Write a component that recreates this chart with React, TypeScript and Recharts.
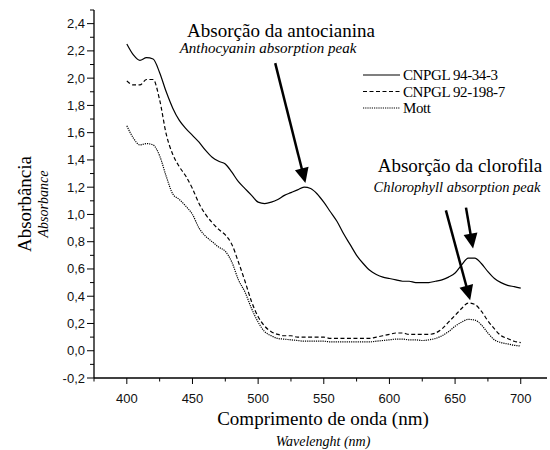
import React from "react";
import { LineChart, Line, XAxis, YAxis, ReferenceLine } from "recharts";

// Wavelength grid (nm) and absorbance readings for each cultivar
const wavelengths = [
  400, 405, 410, 415, 420, 425, 430, 435, 440, 445, 450, 455, 460, 465, 470, 475, 480, 485, 490, 495,
  500, 505, 510, 515, 520, 525, 530, 535, 540, 545, 550, 555, 560, 565, 570, 575, 580, 585, 590, 595,
  600, 605, 610, 615, 620, 625, 630, 635, 640, 645, 650, 655, 660, 665, 670, 675, 680, 685, 690, 695, 700,
];

const cnpgl94 = [
  2.25, 2.17, 2.13, 2.15, 2.14, 2.04, 1.9, 1.78, 1.69, 1.63, 1.58, 1.53, 1.47, 1.42, 1.39, 1.37, 1.31, 1.24, 1.19, 1.14,
  1.09, 1.08, 1.09, 1.11, 1.14, 1.16, 1.18, 1.2, 1.19, 1.15, 1.09, 1.02, 0.95, 0.86, 0.78, 0.7, 0.64, 0.59, 0.56, 0.54,
  0.53, 0.52, 0.51, 0.51, 0.5, 0.5, 0.5, 0.51, 0.52, 0.54, 0.57, 0.63, 0.68, 0.68, 0.64, 0.58, 0.53, 0.5, 0.48, 0.47, 0.46,
];

const cnpgl92 = [
  1.98, 1.95, 1.95, 1.99, 1.99, 1.84, 1.59, 1.44, 1.35, 1.28, 1.19, 1.08, 1.0, 0.94, 0.89, 0.85, 0.78, 0.65, 0.51, 0.36,
  0.25, 0.18, 0.14, 0.12, 0.11, 0.11, 0.1, 0.1, 0.1, 0.1, 0.1, 0.09, 0.09, 0.09, 0.09, 0.09, 0.09, 0.09, 0.1, 0.11,
  0.12, 0.13, 0.13, 0.12, 0.12, 0.12, 0.12, 0.13, 0.16, 0.21, 0.26, 0.31, 0.35, 0.34, 0.29, 0.22, 0.16, 0.11, 0.09, 0.07, 0.06,
];

const mott = [
  1.65, 1.56, 1.51, 1.52, 1.51, 1.43, 1.28, 1.15, 1.11, 1.06, 1.0, 0.9, 0.84, 0.8, 0.76, 0.73, 0.65, 0.52, 0.43, 0.31,
  0.21, 0.14, 0.11, 0.09, 0.085, 0.08, 0.075, 0.07, 0.07, 0.07, 0.07, 0.065, 0.065, 0.065, 0.065, 0.065, 0.065, 0.065, 0.07, 0.075,
  0.08, 0.085, 0.085, 0.08, 0.08, 0.075, 0.08, 0.09, 0.11, 0.14, 0.18, 0.21, 0.23, 0.225, 0.19, 0.13, 0.08, 0.06, 0.05, 0.04, 0.035,
];

const seriesNames = ["CNPGL 94-34-3", "CNPGL 92-198-7", "Mott"];
const seriesKeys = ["a", "b", "c"];
const seriesDash = ["", "4 2.5", "1.2 1"];

const xTicks = [375, 400, 425, 450, 475, 500, 525, 550, 575, 600, 625, 650, 675, 700];
const yTicks = Array.from({ length: 28 }, (_, i) => Math.round((-0.2 + i * 0.1) * 10) / 10);

// Arrow segments pointing at the absorption peaks: [x1, y1, x2, y2] in nm / absorbance
const arrows = [
  [513, 2.11, 536, 1.23],
  [643, 1.03, 661.5, 0.37],
  [658.3, 1.05, 663.7, 0.75],
];

const data = wavelengths.map((nm, i) => ({ nm, a: cnpgl94[i], b: cnpgl92[i], c: mott[i] }));

const SERIF = '"Liberation Serif", "Times New Roman", serif';
const SANS = '"Liberation Sans", Arial, sans-serif';

const XTick = (props: any) => {
  const { x, y, payload } = props;
  const v = payload.value as number;
  const major = v % 50 === 0;
  return (
    <g>
      <line x1={x} y1={y} x2={x} y2={y + (major ? 6 : 3.5)} stroke="#000" strokeWidth={1} />
      {major && (
        <text x={x} y={y + 25} textAnchor="middle" fontFamily={SANS} fontSize={13} fill="#111">
          {v}
        </text>
      )}
    </g>
  );
};

const YTick = (props: any) => {
  const { x, y, payload } = props;
  const v = payload.value as number;
  const major = Math.round(v * 10) % 2 === 0;
  return (
    <g>
      <line x1={x - (major ? 7 : 4)} y1={y} x2={x} y2={y} stroke="#000" strokeWidth={1} />
      {major && (
        <text x={x - 9} y={y + 4.5} textAnchor="end" fontFamily={SANS} fontSize={13} fill="#111">
          {v.toFixed(1).replace(".", ",")}
        </text>
      )}
    </g>
  );
};

const ArrowShape = (props: any) => {
  const { x1, y1, x2, y2 } = props;
  const dx = x2 - x1;
  const dy = y2 - y1;
  const len = Math.hypot(dx, dy) || 1;
  const ux = dx / len;
  const uy = dy / len;
  const head = 15;
  const half = 7;
  const bx = x2 - ux * head;
  const by = y2 - uy * head;
  return (
    <g>
      <line x1={x1} y1={y1} x2={bx + ux * 2} y2={by + uy * 2} stroke="#000" strokeWidth={2.5} />
      <polygon
        points={`${x2},${y2} ${bx - uy * half},${by + ux * half} ${bx + uy * half},${by - ux * half}`}
        fill="#000"
      />
    </g>
  );
};

export default function App() {
  return (
    <div style={{ position: "absolute", left: 0, top: 0, width: 550, height: 450, background: "#fff" }}>
      <LineChart width={550} height={450} data={data} margin={{ top: 10, right: 3, left: 0, bottom: 0 }}>
        <XAxis
          dataKey="nm"
          type="number"
          domain={[375, 720]}
          ticks={xTicks}
          interval={0}
          height={72}
          tickLine={false}
          tickSize={0}
          tickMargin={0}
          tick={<XTick />}
          axisLine={{ stroke: "#000", strokeWidth: 1.3 }}
        />
        <YAxis
          type="number"
          domain={[-0.2, 2.5]}
          ticks={yTicks}
          interval={0}
          width={94}
          tickLine={false}
          tickSize={0}
          tickMargin={0}
          tick={<YTick />}
          axisLine={{ stroke: "#000", strokeWidth: 1.3 }}
        />
        {seriesKeys.map((k, i) => (
          <Line
            key={k}
            dataKey={k}
            name={seriesNames[i]}
            type="monotone"
            stroke="#000"
            strokeWidth={1.2}
            strokeDasharray={seriesDash[i] || undefined}
            dot={false}
            isAnimationActive={false}
          />
        ))}
        {arrows.map((a, i) => (
          <ReferenceLine
            key={i}
            segment={[
              { x: a[0], y: a[1] },
              { x: a[2], y: a[3] },
            ]}
            ifOverflow="visible"
            shape={ArrowShape}
          />
        ))}
      </LineChart>
      <svg
        width={550}
        height={450}
        style={{ position: "absolute", left: 0, top: 0, pointerEvents: "none" }}
      >
        <g fontFamily={SERIF} fill="#000">
          {seriesNames.map((name, i) => (
            <g key={name}>
              <line
                x1={363}
                y1={75 + i * 16.5}
                x2={400}
                y2={75 + i * 16.5}
                stroke="#000"
                strokeWidth={1.1}
                strokeDasharray={seriesDash[i] || undefined}
              />
              <text x={403} y={80 + i * 16.5} fontSize={15} letterSpacing={-0.4}>
                {name}
              </text>
            </g>
          ))}
          <text x={281} y={37} textAnchor="middle" fontSize={19}>
            Absorção da antocianina
          </text>
          <text x={268} y={53} textAnchor="middle" fontSize={15} fontStyle="italic">
            Anthocyanin absorption peak
          </text>
          <text x={460} y={172} textAnchor="middle" fontSize={19}>
            Absorção da clorofila
          </text>
          <text x={457} y={192} textAnchor="middle" fontSize={14.5} fontStyle="italic">
            Chlorophyll absorption peak
          </text>
          <text x={323} y={425} textAnchor="middle" fontSize={19}>
            Comprimento de onda (nm)
          </text>
          <text x={323} y={446} textAnchor="middle" fontSize={14} fontStyle="italic">
            Wavelenght (nm)
          </text>
          <text x={31} y={204} textAnchor="middle" fontSize={19} transform="rotate(-90 31 204)">
            Absorbância
          </text>
          <text x={48} y={204} textAnchor="middle" fontSize={14} fontStyle="italic" transform="rotate(-90 48 204)">
            Absorbance
          </text>
        </g>
      </svg>
    </div>
  );
}
